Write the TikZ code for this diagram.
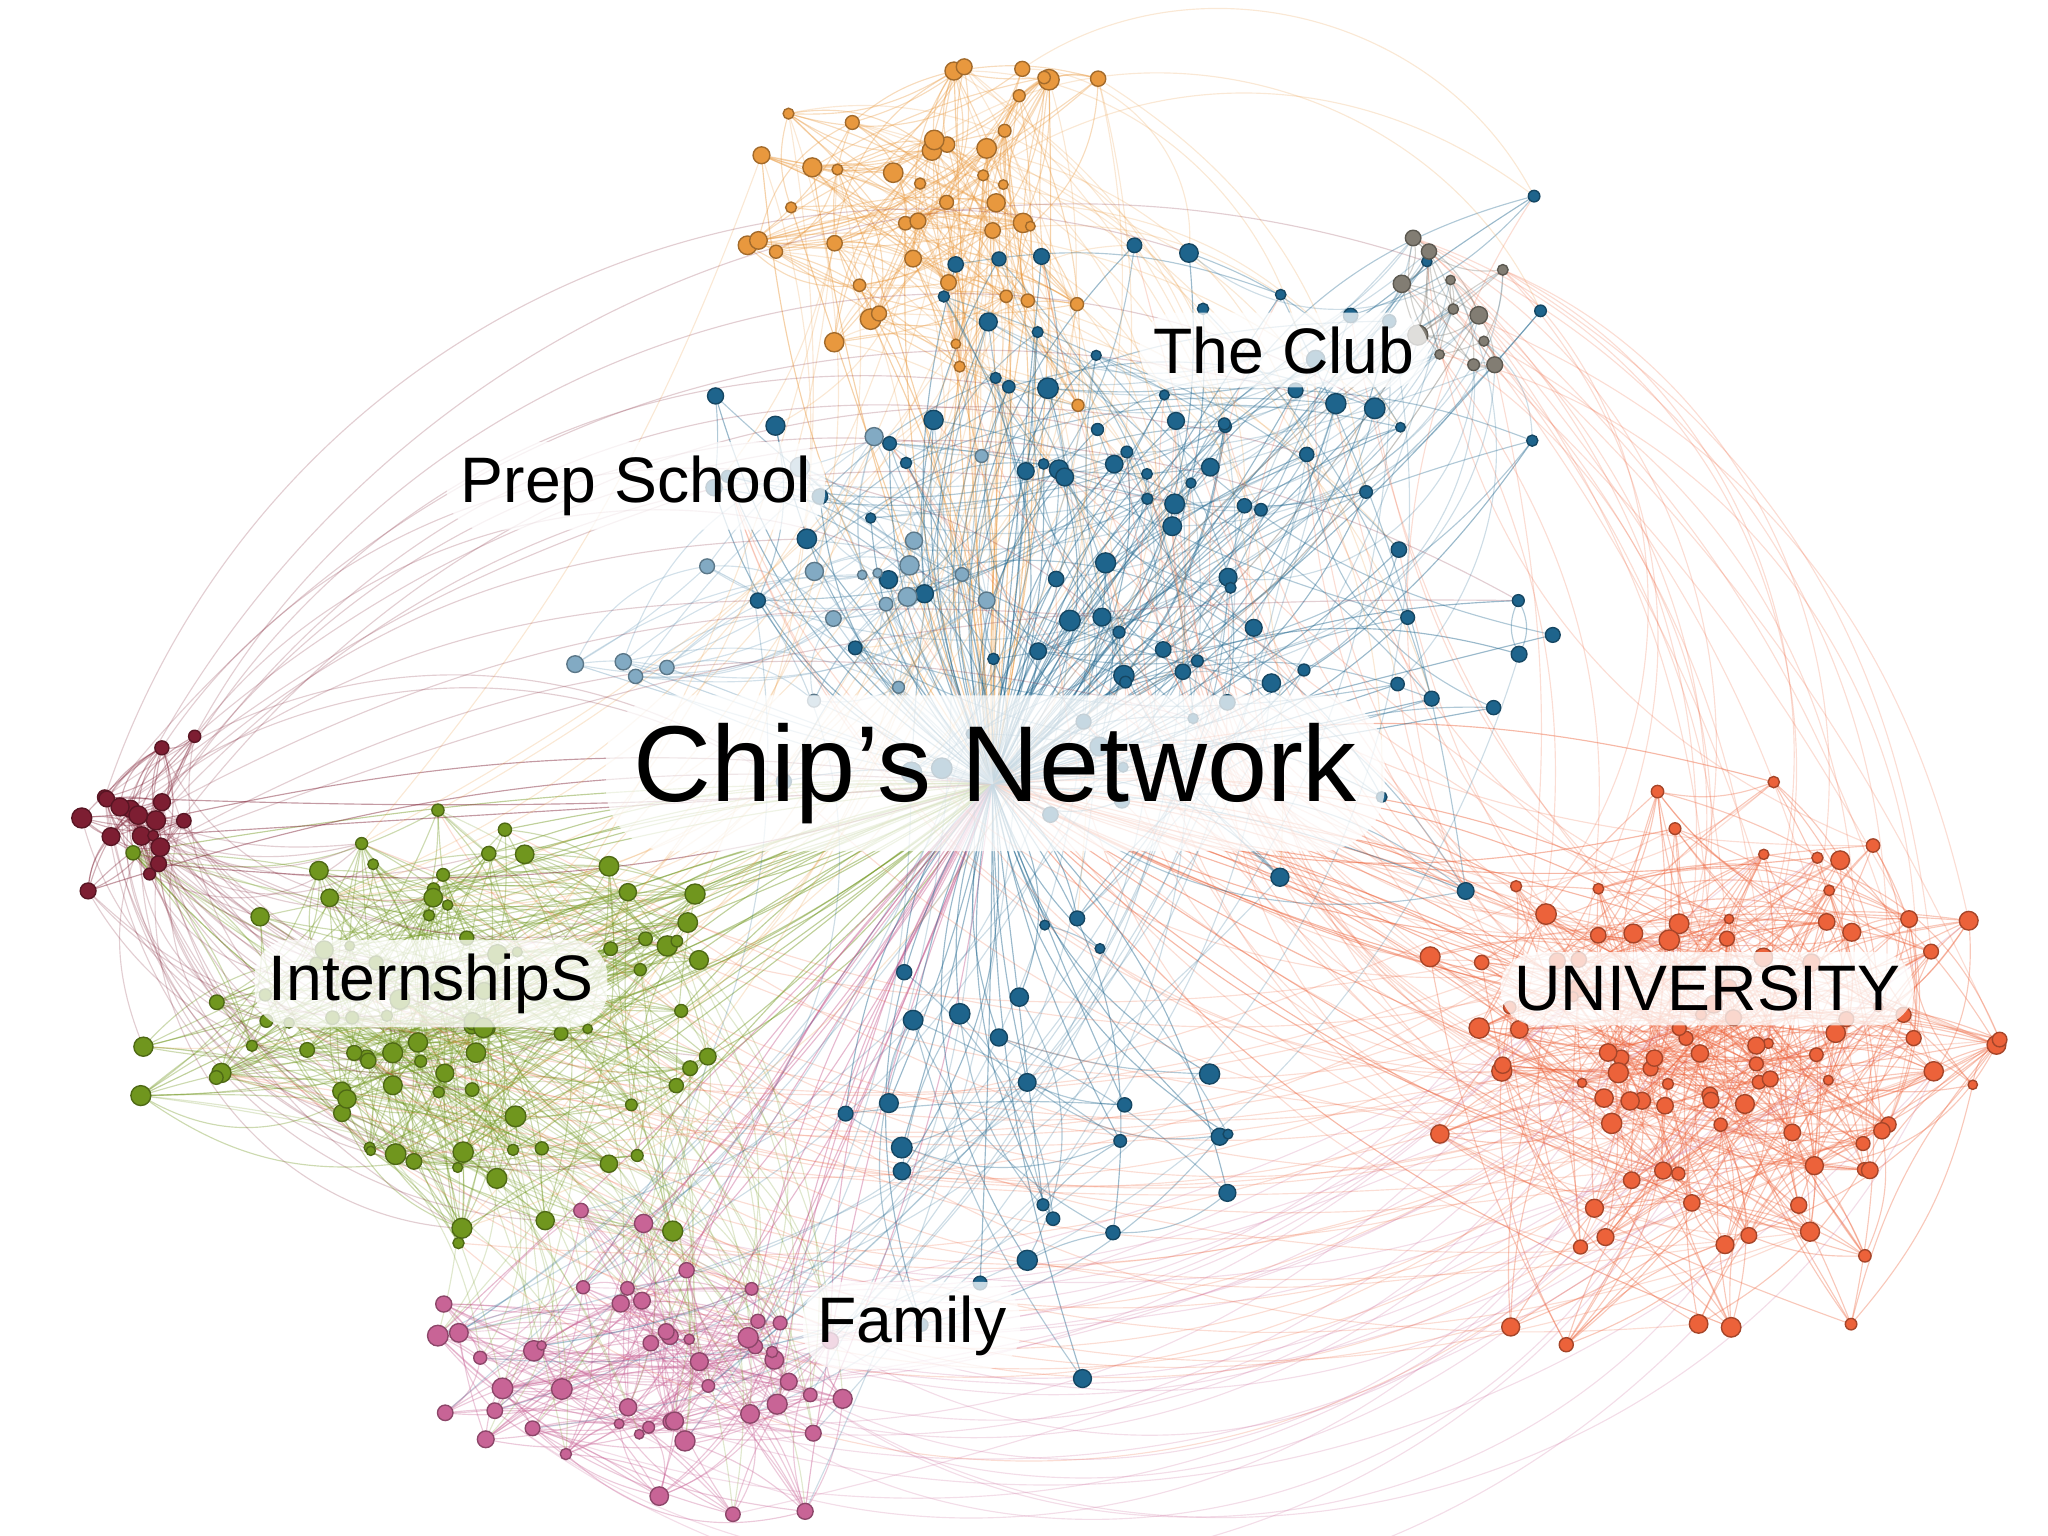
\documentclass[tikz,border=0pt]{standalone}
\usepackage{fontspec}
\setmainfont{Liberation Sans}
\definecolor{cU}{RGB}{236,98,58}
\definecolor{cG}{RGB}{112,150,30}
\definecolor{cP}{RGB}{200,100,150}
\definecolor{cR}{RGB}{125,30,50}
\definecolor{cO}{RGB}{232,152,62}
\definecolor{cB}{RGB}{30,100,140}
\definecolor{cL}{RGB}{130,170,195}
\definecolor{cY}{RGB}{130,125,115}
\tikzset{
 edge/.style={line width=0.25pt, draw opacity=0.35},
 dot/.style={circle,inner sep=0pt,line width=0.3pt},
 lab/.style={fill=white,fill opacity=0.75,text opacity=1,rounded corners=8pt,inner sep=3pt,font=\fontsize{14}{17}\selectfont}
}
\def\nedges{4}
% name, n, cx, cy, sx, sy, colour, hubedges, bend
\newcommand\mkclus[9]{%
 \foreach \i in {1,...,#2}{%
  \pgfmathsetmacro\px{#3+#5*(rand+rand)/1.5}%
  \pgfmathsetmacro\py{#4+#6*(rand+rand)/1.5}%
  \coordinate (#1\i) at (\px,\py);}
 \foreach \i in {1,...,#2}{\foreach \k in {1,...,\nedges}{%
  \pgfmathtruncatemacro\j{random(1,#2)}%
  \pgfmathtruncatemacro\bb{random(5,30)}%
  \draw[edge,#7] (#1\i) to[bend left=\bb] (#1\j);}}
 \foreach \i in {1,...,#8}{%
  \pgfmathtruncatemacro\bb{random(0,#9)-#9/2}%
  \draw[edge,#7,draw opacity=0.45] (#1\i) to[bend left=\bb] (hub);}
}
\newcommand\mkdots[3]{%
 \foreach \i in {1,...,#2}{%
  \pgfmathsetmacro\s{2+2.5*rnd}%
  \node[dot,fill=#3,draw=#3!70!black,minimum size=\s pt] (d#1\i) at (#1\i) {};}}
\newcommand\mklinks[6]{% a, na, b, nb, count, colour
 \foreach \k in {1,...,#5}{%
  \pgfmathtruncatemacro\a{random(1,#2)}%
  \pgfmathtruncatemacro\b{random(1,#4)}%
  \pgfmathtruncatemacro\bb{random(10,50)}%
  \draw[edge,#6,draw opacity=0.22] (#1\a) to[bend left=\bb] (#3\b);}}
\begin{document}
\begin{tikzpicture}[x=0.01cm,y=-0.01cm]
\useasboundingbox (0,0) rectangle (1568,1176);
\pgfmathsetseed{7}
\coordinate (hub) at (760,600);
\mkclus{U}{100}{1300}{800}{190}{190}{cU}{25}{40}
\mkclus{G}{90}{340}{790}{200}{170}{cG}{35}{30}
\mkclus{P}{50}{500}{1040}{140}{100}{cP}{20}{30}
\mkclus{R}{18}{120}{630}{60}{60}{cR}{5}{30}
\mkclus{O}{45}{720}{170}{130}{110}{cO}{20}{30}
\def\nedges{1}
\mkclus{B}{100}{860}{400}{280}{230}{cB}{100}{60}
\mkclus{Q}{25}{800}{850}{140}{170}{cB}{25}{60}
\def\nedges{3}
\mkclus{Y}{12}{1120}{230}{45}{60}{cY}{3}{30}
\mkclus{L}{20}{620}{440}{160}{90}{cL}{20}{20}
\mklinks{G}{90}{P}{50}{70}{cG}
\mklinks{G}{90}{R}{18}{50}{cR}
\mklinks{U}{100}{B}{100}{60}{cU}
\mklinks{U}{100}{P}{50}{35}{cP}
\mklinks{U}{100}{G}{90}{40}{cU}
\mklinks{O}{45}{B}{100}{60}{cO}
\mklinks{Y}{12}{B}{100}{30}{cB}
\mklinks{Y}{12}{U}{100}{25}{cU}
\mklinks{B}{100}{P}{50}{30}{cB}
\mklinks{O}{45}{G}{90}{30}{cO}
\mklinks{R}{18}{B}{100}{20}{cR}
\mkdots{U}{100}{cU}
\mkdots{G}{90}{cG}
\mkdots{P}{50}{cP}
\mkdots{R}{18}{cR}
\mkdots{O}{45}{cO}
\mkdots{B}{100}{cB}
\mkdots{Y}{12}{cY}
\mkdots{L}{20}{cL}
\mkdots{Q}{25}{cB}
\node[lab] (prep) at (487,372) {Prep School};
\node[lab] (club) at (983,268) {The Club};
\node[lab,font=\fontsize{23.5}{28}\selectfont,inner sep=6pt,rounded corners=14pt] (chip) at (762,592) {Chip’s Network};
\node[lab] (intern) at (330,753) {InternshipS};
\node[lab] (univ) at (1307,757) {UNIVERSITY};
\node[lab] (fam) at (698,1015) {Family};
\end{tikzpicture}
\end{document}
